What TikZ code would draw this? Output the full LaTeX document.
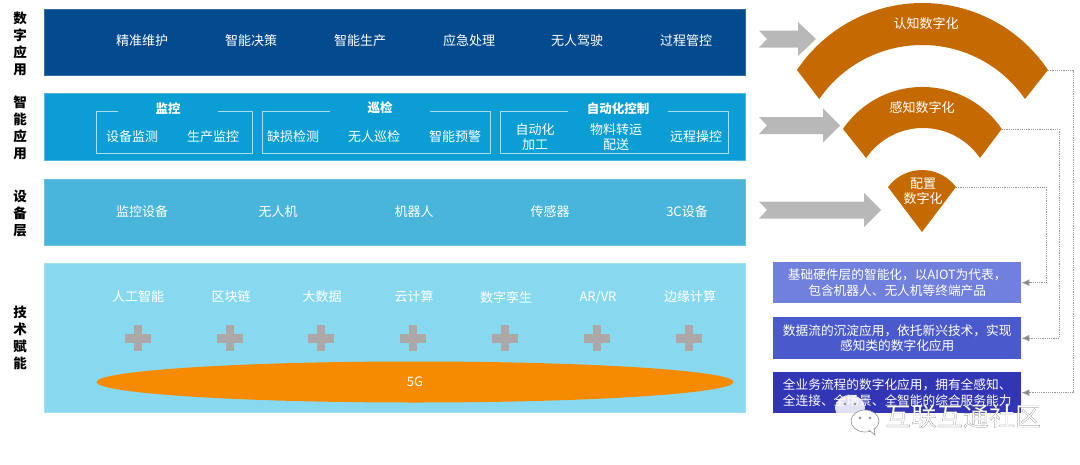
\documentclass[tikz,border=0pt]{standalone}
\usepackage{fontspec}
\usepackage{xcolor}
\usetikzlibrary{arrows.meta,positioning,shapes.geometric}
\setmainfont{Noto Sans CJK SC}
\newfontfamily\wmfont[FakeBold=0.6]{Noto Sans CJK SC}
\definecolor{banda}{HTML}{044A8E}
\definecolor{bandb}{HTML}{0A9ED4}
\definecolor{bandc}{HTML}{49B5DB}
\definecolor{bandd}{HTML}{88D9F0}
\definecolor{sectorc}{HTML}{C46A00}
\definecolor{arrowc}{HTML}{B8B8B8}
\definecolor{plusc}{HTML}{ADA8A8}
\definecolor{fiveg}{HTML}{F68B00}
\definecolor{boxa}{HTML}{7080DC}
\definecolor{boxb}{HTML}{4A5ACC}
\definecolor{boxc}{HTML}{3236B4}
\definecolor{bracketc}{HTML}{A8DDF0}
\definecolor{wmgray}{HTML}{8C8C8C}
\begin{document}
\begin{tikzpicture}[x=1pt,y=-1pt,font=\fontsize{13}{15.5}\selectfont]
    \tikzstyle{band}=[anchor=north west,inner sep=0pt,minimum width=700.5pt]
    \tikzstyle{side}=[align=center,font=\fontsize{13.5}{17}\selectfont\bfseries,inner sep=0pt]
    \tikzstyle{t}=[text=white,align=center,inner sep=0pt]
    \tikzstyle{tb}=[text=white,align=center,inner sep=0pt,font=\fontsize{12.5}{15.5}\selectfont\bfseries]
    \tikzstyle{note}=[anchor=north west,inner sep=0pt,minimum width=248pt,text=white,align=center,font=\fontsize{12.7}{15.5}\selectfont]
    \tikzstyle{bracket}=[draw=bracketc,line width=0.9pt]
    \tikzstyle{sector}=[fill=sectorc]
    \tikzstyle{link}=[draw=gray!80,line width=1pt,dash pattern=on 1.2pt off 1pt,-{Latex[length=8pt,width=7pt,fill=gray]}]
    \useasboundingbox (0,0) rectangle (1080,464);
    \node[band,fill=banda,draw=banda!80!white,minimum height=66pt] (digi) at (44,9) {};
    \node[band,fill=bandb,draw=bandb!70!white,minimum height=67pt] (smart) at (44,93) {};
    \node[band,fill=bandc,draw=bandc!80!white,minimum height=66pt] (device) at (44,179) {};
    \node[band,fill=bandd,draw=bandd!80!white,minimum height=149pt] (tech) at (44,263) {};
    \node[side] (sa) at (20,44) {数\\字\\应\\用};
    \node[side] (sb) at (20,128) {智\\能\\应\\用};
    \node[side] (sc) at (20,214) {设\\备\\层};
    \node[side] (sd) at (20,338) {技\\术\\赋\\能};
    \foreach \x/\n/\s in {142/a/精准维护,251/b/智能决策,360/c/智能生产,469/d/应急处理,577/e/无人驾驶,686/f/过程管控}
      \node[t] (app\n) at (\x,41) {\s};
    \node[tb] (mon) at (168,109) {监控};
    \node[tb] (pat) at (380,108) {巡检};
    \node[tb] (auto) at (618,109) {自动化控制};
    \draw[bracket] (118,111) -- (96,111) -- (96,153) -- (252,153) -- (252,111) -- (218,111);
    \draw[bracket] (330,111) -- (262,111) -- (262,153) -- (490,153) -- (490,111) -- (430,111);
    \draw[bracket] (568,111) -- (500,111) -- (500,153) -- (728,153) -- (728,111) -- (668,111);
    \foreach \x/\n/\s in {132/a/设备监测,213/b/生产监控,293/c/缺损检测,374/d/无人巡检,455/e/智能预警,696/f/远程操控}
      \node[t] (sm\n) at (\x,137) {\s};
    \node[t] (smg) at (535,137) {自动化\\加工};
    \node[t] (smh) at (616,137) {物料转运\\配送};
    \foreach \x/\n/\s in {142/a/监控设备,278/b/无人机,414/c/机器人,550/d/传感器,687/e/3C设备}
      \node[t] (dev\n) at (\x,212) {\s};
    \foreach \x/\n/\s in {138/a/人工智能,231/b/区块链,322/c/大数据,414/d/云计算,506/e/数字孪生,598/f/{AR/VR},690/g/边缘计算}
      \node[t] (tec\n) at (\x,297) {\s};
    \foreach \x in {138,230,321,413,505,597,689} {
      \fill[plusc] (\x-13,334) rectangle (\x+13,342.5);
      \fill[plusc] (\x-4.2,325) rectangle (\x+4.2,351);
    }
    \node[ellipse,fill=fiveg,minimum width=637pt,minimum height=41pt,inner sep=0pt,text=white] (fg) at (415,382) {5G};
    \foreach \y/\b/\t in {39/798/816,125.5/823/840,210/864/881}
      \fill[arrowc] (759,\y-8.5) -- (\b,\y-8.5) -- (\b,\y-17) -- (\t,\y) -- (\b,\y+17) -- (\b,\y+8.5) -- (759,\y+8.5) -- (767,\y) -- cycle;
    \coordinate (cog) at (1048,70);
    \coordinate (sen) at (1002,129);
    \coordinate (cfg) at (956,187);
    \fill[sector] (797,70) arc[start angle=146.2,end angle=33.8,radius=151pt] -- (1025,99) arc[start angle=34.6,end angle=145.4,radius=125pt] -- cycle;
    \fill[sector] (843,129) arc[start angle=145.8,end angle=34.2,radius=96pt] -- (980,158) arc[start angle=34.4,end angle=145.6,radius=69pt] -- cycle;
    \fill[sector] (888,187) arc[start angle=143.1,end angle=36.9,radius=42.5pt] -- (922,232) -- cycle;
    \node[t] (lcog) at (926,24) {认知数字化};
    \node[t] (lsen) at (922,108) {感知数字化};
    \node[t] (lcfg) at (923,191.5) {配置\\数字化};
    \node[note,fill=boxa,minimum height=41pt] (na) at (773,262) {基础硬件层的智能化，以AIOT为代表，\\包含机器人、无人机等终端产品};
    \node[note,fill=boxb,minimum height=42pt] (nb) at (773,317) {数据流的沉淀应用，依托新兴技术，实现\\感知类的数字化应用};
    \node[note,fill=boxc,minimum height=41pt] (nc) at (773,372) {全业务流程的数字化应用，拥有全感知、\\全连接、全场景、全智能的综合服务能力};
    \draw[link] (cfg) -- ++(90,0) |- (na.east);
    \draw[link] (sen) -- ++(57,0) |- (nb.east);
    \draw[link] (cog) -- ++(25,0) |- (nc.east);
    \fill[white,opacity=0.85] (850,408) ellipse[x radius=15pt,y radius=13pt];
    \fill[white,opacity=0.85] (838,416) -- (836,425) -- (846,420) -- cycle;
    \filldraw[draw=wmgray,fill=white,line width=0.6pt] (865,421) ellipse[x radius=14pt,y radius=11pt];
    \filldraw[draw=wmgray,fill=white,line width=0.6pt] (869,430) -- (875,435) -- (874,428);
    \foreach \x/\y in {845/404,855/404,860/418,870/418}
      \fill[wmgray] (\x,\y) circle[radius=1.3pt];
    \node[inner sep=0pt,font=\fontsize{26}{28}\wmfont] (wm) at (963,416) {\special{pdf:bcolor [1] [0.45]}互联互通社区\special{pdf:ecolor}};
\end{tikzpicture}
\end{document}
